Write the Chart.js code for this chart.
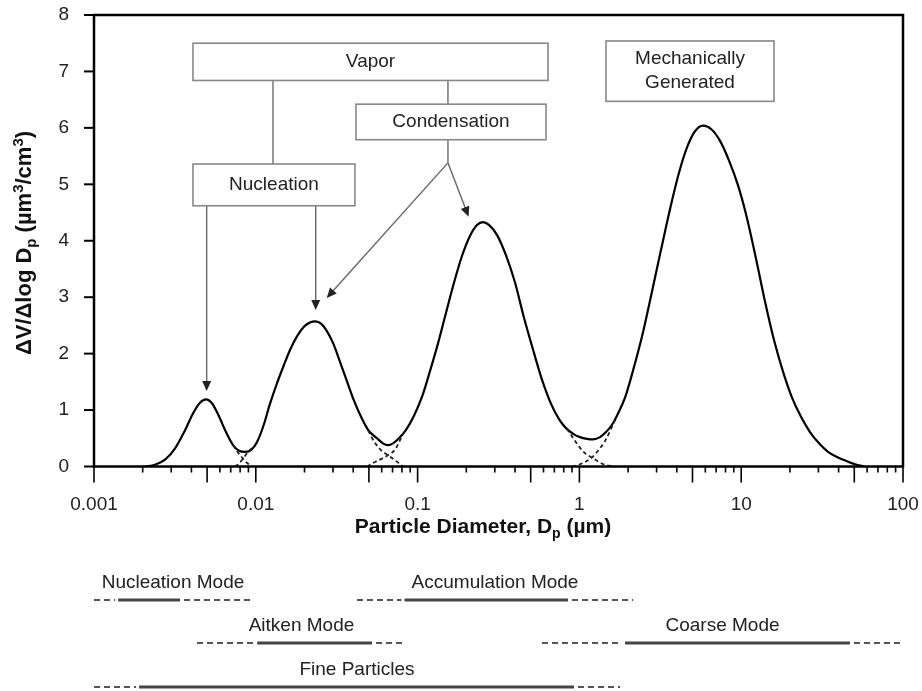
<!DOCTYPE html>
<html>
<head>
<meta charset="utf-8">
<script src="https://cdn.jsdelivr.net/npm/chart.js@4.4.0/dist/chart.umd.min.js"></script>
<style>
  html, body { margin: 0; padding: 0; background: #fff; }
  #wrap { width: 922px; height: 691px; }
</style>
</head>
<body>
<div id="wrap"><canvas id="sizeChart"></canvas></div>
<script>
// Volume size distribution (Dp in um, dV/dlogDp in um3/cm3)
const diameters = [0.00207, 0.00238, 0.00275, 0.00317, 0.00365, 0.00409, 0.00452, 0.00492, 0.00536, 0.00592,
  0.00654, 0.00723, 0.00788, 0.00858, 0.00934, 0.0102, 0.0112, 0.0122, 0.0135, 0.0147,
  0.0163, 0.0180, 0.0199, 0.0216, 0.0234, 0.0253, 0.0275, 0.0300, 0.0331, 0.0366,
  0.0404, 0.0447, 0.0494, 0.0561, 0.0611, 0.0656, 0.0705, 0.0767, 0.0848, 0.0950,
  0.107, 0.119, 0.134, 0.150, 0.168, 0.188, 0.211, 0.233, 0.254, 0.276,
  0.310, 0.352, 0.400, 0.455, 0.517, 0.587, 0.668, 0.748, 0.826, 0.926,
  1.009, 1.114, 1.214, 1.341, 1.460, 1.591, 1.733, 1.914, 2.145, 2.473,
  2.80, 3.19, 3.63, 4.13, 4.62, 5.18, 5.81, 6.51, 7.40, 8.41,
  9.56, 10.86, 12.35, 14.04, 15.95, 18.13, 20.61, 23.42, 26.62, 30.26,
  34.40, 39.09, 44.43, 50.50, 58.24]
const volume = [0.00, 0.03, 0.12, 0.32, 0.64, 0.94, 1.13, 1.19, 1.12, 0.89,
  0.61, 0.38, 0.28, 0.26, 0.29, 0.44, 0.74, 1.10, 1.47, 1.75,
  2.07, 2.31, 2.48, 2.55, 2.57, 2.53, 2.40, 2.19, 1.86, 1.51,
  1.17, 0.88, 0.65, 0.50, 0.41, 0.38, 0.41, 0.50, 0.65, 0.90,
  1.25, 1.68, 2.19, 2.73, 3.26, 3.73, 4.09, 4.28, 4.33, 4.28,
  4.10, 3.74, 3.26, 2.63, 2.07, 1.54, 1.11, 0.84, 0.68, 0.57,
  0.52, 0.49, 0.48, 0.52, 0.61, 0.74, 0.94, 1.22, 1.70, 2.38,
  3.08, 3.83, 4.56, 5.21, 5.65, 5.94, 6.04, 5.98, 5.77, 5.42,
  4.98, 4.40, 3.68, 2.92, 2.24, 1.68, 1.22, 0.88, 0.61, 0.41,
  0.26, 0.17, 0.10, 0.04, 0.00]

// tails of the single modes where they overlap (dashed)
const nucleationTailX = [0.00723, 0.00776, 0.00834, 0.00895, 0.00961]
const nucleationTailY = [0.38, 0.25, 0.14, 0.05, 0]
const aitkenLeftX = [0.00744, 0.00788, 0.00834, 0.00895, 0.00961]
const aitkenLeftY = [0, 0.05, 0.14, 0.26, 0.34]
const aitkenRightX = [0.0494, 0.0545, 0.0594, 0.0656, 0.0725, 0.0813]
const aitkenRightY = [0.64, 0.42, 0.29, 0.20, 0.11, 0]
const accumLeftX = [0.0487, 0.0545, 0.0594, 0.0656, 0.0725, 0.0813]
const accumLeftY = [0, 0.08, 0.13, 0.20, 0.30, 0.58]
const accumRightX = [0.838, 0.926, 1.009, 1.098, 1.196, 1.303, 1.439, 1.613]
const accumRightY = [0.67, 0.48, 0.33, 0.22, 0.16, 0.09, 0.03, 0]
const coarseLeftX = [0.900, 1.009, 1.098, 1.196, 1.303, 1.439, 1.660]
const coarseLeftY = [0, 0.04, 0.09, 0.16, 0.28, 0.45, 0.82]

const xTicks = [0.001, 0.01, 0.1, 1, 10, 100]
const xTickLabels = ["0.001", "0.01", "0.1", "1", "10", "100"]
const yTicks = [0, 1, 2, 3, 4, 5, 6, 7, 8]

// size ranges of the modes (um): dashed from..solidFrom, solid, dashed solidTo..to
const modeNames = ["Nucleation Mode", "Accumulation Mode", "Aitken Mode", "Coarse Mode", "Fine Particles"]
const modeRow = [0, 0, 1, 1, 2]
const modeFrom = [0.001, 0.0422, 0.00433, 0.587, 0.001]
const modeSolidFrom = [0.00141, 0.083, 0.0102, 1.914, 0.0019]
const modeSolidTo = [0.0034, 0.85, 0.0523, 47.0, 0.926]
const modeTo = [0.00947, 2.145, 0.0848, 100, 1.782]

const FONT = '"Liberation Sans", Arial, sans-serif'
Chart.defaults.font.family = FONT

function pts(xs, ys) {
  return xs.map((x, i) => ({ x: x, y: ys[i] }))
}

function tail(xs, ys) {
  return {
    data: pts(xs, ys),
    borderColor: "#222",
    borderWidth: 1.8,
    borderDash: [4, 3],
    pointRadius: 0,
    cubicInterpolationMode: "monotone",
  }
}

// process boxes and arrows, placed in data units
const boxes = [
  { lines: ["Vapor"], x0: 0.00409, x1: 0.640, y0: 7.50, y1: 6.84 },
  { lines: ["Condensation"], x0: 0.0416, x1: 0.622, y0: 6.42, y1: 5.79 },
  { lines: ["Nucleation"], x0: 0.00409, x1: 0.0410, y0: 5.36, y1: 4.62 },
  { lines: ["Mechanically", "Generated"], x0: 1.46, x1: 15.95, y0: 7.54, y1: 6.47 },
]
const links = [
  [0.01277, 6.84, 0.01277, 5.36],
  [0.154, 6.84, 0.154, 6.42],
  [0.154, 5.79, 0.154, 5.38],
]
const arrows = [
  [0.154, 5.38, 0.02743, 2.985],
  [0.154, 5.38, 0.2067, 4.426],
  [0.00497, 4.62, 0.00497, 1.338],
  [0.02346, 4.62, 0.02346, 2.773],
]

function drawRich(ctx, parts, cx, cy, size, weight, angle) {
  const fontFor = p => weight + " " + (p.sub || p.sup ? Math.round(size * 0.68) : size) + "px " + FONT
  let total = 0
  parts.forEach(p => {
    ctx.font = fontFor(p)
    p.w = ctx.measureText(p.t).width
    total += p.w
  })
  ctx.save()
  ctx.translate(cx, cy)
  ctx.rotate(angle || 0)
  ctx.textBaseline = "middle"
  ctx.textAlign = "left"
  ctx.fillStyle = "#111"
  let xx = -total / 2
  parts.forEach(p => {
    ctx.font = fontFor(p)
    const dy = p.sub ? size * 0.32 : p.sup ? -size * 0.3 : 0
    ctx.fillText(p.t, xx, dy)
    xx += p.w
  })
  ctx.restore()
}

const decorations = {
  id: "decorations",
  afterDraw(chart) {
    const { ctx, chartArea: a } = chart
    const x = chart.scales.x
    const y = chart.scales.y
    ctx.save()

    // frame
    ctx.strokeStyle = "#000"
    ctx.lineWidth = 2.5
    ctx.strokeRect(a.left, a.top, a.right - a.left, a.bottom - a.top)

    // y tick marks
    ctx.lineWidth = 2
    yTicks.forEach(v => {
      const py = y.getPixelForValue(v)
      ctx.beginPath()
      ctx.moveTo(a.left - 10, py)
      ctx.lineTo(a.left, py)
      ctx.stroke()
    })

    // x tick marks: long at 1 and 5, short elsewhere
    ctx.lineWidth = 1.6
    xTicks.forEach(d => {
      for (let k = 1; k <= 9; k++) {
        const v = d * k
        if (v > 100.0001) break
        const px = x.getPixelForValue(v)
        const len = (k === 1 || k === 5) ? 16 : 6
        ctx.beginPath()
        ctx.moveTo(px, a.bottom)
        ctx.lineTo(px, a.bottom + len)
        ctx.stroke()
      }
    })

    // connector lines
    ctx.strokeStyle = "#777"
    ctx.lineWidth = 1.5
    links.forEach(l => {
      ctx.beginPath()
      ctx.moveTo(x.getPixelForValue(l[0]), y.getPixelForValue(l[1]))
      ctx.lineTo(x.getPixelForValue(l[2]), y.getPixelForValue(l[3]))
      ctx.stroke()
    })

    // arrows
    arrows.forEach(l => {
      const x1 = x.getPixelForValue(l[0]), y1 = y.getPixelForValue(l[1])
      const x2 = x.getPixelForValue(l[2]), y2 = y.getPixelForValue(l[3])
      const ang = Math.atan2(y2 - y1, x2 - x1)
      ctx.strokeStyle = "#666"
      ctx.lineWidth = 1.4
      ctx.beginPath()
      ctx.moveTo(x1, y1)
      ctx.lineTo(x2 - 8 * Math.cos(ang), y2 - 8 * Math.sin(ang))
      ctx.stroke()
      ctx.fillStyle = "#222"
      ctx.beginPath()
      ctx.moveTo(x2, y2)
      ctx.lineTo(x2 - 10 * Math.cos(ang) + 4.5 * Math.sin(ang), y2 - 10 * Math.sin(ang) - 4.5 * Math.cos(ang))
      ctx.lineTo(x2 - 10 * Math.cos(ang) - 4.5 * Math.sin(ang), y2 - 10 * Math.sin(ang) + 4.5 * Math.cos(ang))
      ctx.closePath()
      ctx.fill()
    })

    // boxes
    boxes.forEach(b => {
      const bx = x.getPixelForValue(b.x0), bx2 = x.getPixelForValue(b.x1)
      const by = y.getPixelForValue(b.y0), by2 = y.getPixelForValue(b.y1)
      ctx.fillStyle = "#fff"
      ctx.fillRect(bx, by, bx2 - bx, by2 - by)
      ctx.strokeStyle = "#888"
      ctx.lineWidth = 1.6
      ctx.strokeRect(bx, by, bx2 - bx, by2 - by)
      ctx.fillStyle = "#222"
      ctx.font = "19px " + FONT
      ctx.textAlign = "center"
      ctx.textBaseline = "middle"
      const cy = (by + by2) / 2
      b.lines.forEach((t, i) => {
        ctx.fillText(t, (bx + bx2) / 2, cy + (i - (b.lines.length - 1) / 2) * 24)
      })
    })

    // axis titles
    drawRich(ctx, [{ t: "\u0394V/\u0394log D" }, { t: "p", sub: true }, { t: " (\u00b5m" }, { t: "3", sup: true },
      { t: "/cm" }, { t: "3", sup: true }, { t: ")" }], 25, 243, 22, "bold", -Math.PI / 2)
    drawRich(ctx, [{ t: "Particle Diameter, D" }, { t: "p", sub: true }, { t: " (\u00b5m)" }], 483, 527, 21, "bold", 0)

    // mode ranges below the axis
    const rowY = [600, 643, 687]
    modeNames.forEach((name, i) => {
      const ly = rowY[modeRow[i]]
      const p0 = x.getPixelForValue(modeFrom[i])
      const p1 = x.getPixelForValue(modeSolidFrom[i])
      const p2 = x.getPixelForValue(modeSolidTo[i])
      const p3 = x.getPixelForValue(modeTo[i])
      ctx.strokeStyle = "#555"
      ctx.lineWidth = 2.2
      ctx.setLineDash([6, 4])
      ctx.beginPath()
      ctx.moveTo(p0, ly)
      ctx.lineTo(p1 - 3, ly)
      ctx.moveTo(p2 + 4, ly)
      ctx.lineTo(p3, ly)
      ctx.stroke()
      ctx.setLineDash([])
      ctx.strokeStyle = "#444"
      ctx.lineWidth = 3
      ctx.beginPath()
      ctx.moveTo(p1, ly)
      ctx.lineTo(p2, ly)
      ctx.stroke()
      ctx.fillStyle = "#222"
      ctx.font = "19px " + FONT
      ctx.textAlign = "center"
      ctx.textBaseline = "middle"
      ctx.fillText(name, (p0 + p3) / 2, ly - 17)
    })

    ctx.restore()
  },
}

new Chart(document.getElementById("sizeChart"), {
  type: "line",
  data: {
    datasets: [
      tail(nucleationTailX, nucleationTailY),
      tail(aitkenLeftX, aitkenLeftY),
      tail(aitkenRightX, aitkenRightY),
      tail(accumLeftX, accumLeftY),
      tail(accumRightX, accumRightY),
      tail(coarseLeftX, coarseLeftY),
      {
        data: pts(diameters, volume),
        borderColor: "#000",
        borderWidth: 2.2,
        pointRadius: 0,
        cubicInterpolationMode: "monotone",
      },
    ],
  },
  options: {
    responsive: true,
    maintainAspectRatio: false,
    animation: false,
    layout: { padding: { left: 0, right: 19, top: 15, bottom: 0 } },
    plugins: {
      legend: { display: false },
      tooltip: { enabled: false },
    },
    scales: {
      x: {
        type: "logarithmic",
        min: 0.001,
        max: 100,
        // tick marks are drawn by the plugin, tickLength only offsets the labels
        grid: { display: false, drawTicks: true, tickLength: 24 },
        border: { display: false },
        afterBuildTicks: scale => {
          scale.ticks = xTicks.map(v => ({ value: v }))
        },
        afterFit: scale => {
          scale.height = 224.5
        },
        ticks: {
          autoSkip: false,
          maxRotation: 0,
          padding: 3,
          color: "#222",
          font: { size: 19 },
          callback: (value, index) => xTickLabels[index],
        },
      },
      y: {
        min: 0,
        max: 8,
        grid: { display: false, drawTicks: true, tickLength: 22 },
        border: { display: false },
        afterFit: scale => {
          scale.width = 94
        },
        ticks: {
          stepSize: 1,
          padding: 3,
          color: "#222",
          font: { size: 19 },
        },
      },
    },
  },
  plugins: [decorations],
})
</script>
</body>
</html>
